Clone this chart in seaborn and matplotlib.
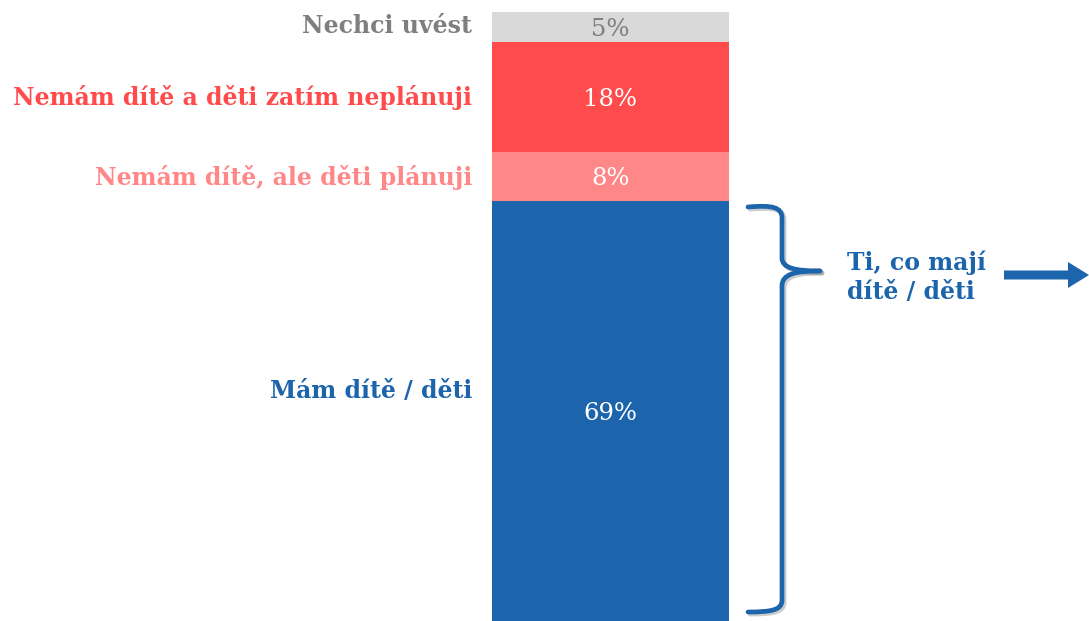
import matplotlib
matplotlib.use("Agg")
import matplotlib.pyplot as plt
import seaborn as sns
import pandas as pd
import numpy as np
from matplotlib.path import Path
from matplotlib.patches import PathPatch, FancyArrow
import matplotlib.patheffects as pe

categories = ["Mám dítě / děti", "Nemám dítě, ale děti plánuji",
              "Nemám dítě a děti zatím neplánuji", "Nechci uvést"]
values = [69, 8, 18, 5]
bar_colors = ["#1c64ab", "#ff8787", "#ff4b4b", "#d9d9d9"]
label_colors = ["#1c64ab", "#ff8787", "#ff4b4b", "#7f7f7f"]
pct_colors = ["white", "white", "white", "#7f7f7f"]
group_label = "Ti, co mají\ndítě / děti"

sns.set_theme(style="white")
plt.rcParams['font.family'] = ['DejaVu Serif']

W, H = 1089, 621
fig = plt.figure(figsize=(W / 100, H / 100), dpi=100)

ax = fig.add_axes([492 / W, 0, 237 / W, 609 / H])
cum = np.cumsum(values)
bottoms = cum - np.array(values)
# draw from top layer down so each overlaps
for i in range(len(values) - 1, -1, -1):
    df = pd.DataFrame({"x": ["a"], "y": [cum[i]]})
    sns.barplot(data=df, x="x", y="y", color=bar_colors[i], width=1.0,
                saturation=1, ax=ax, edgecolor="none", linewidth=0)
ax.set_xlim(-0.5, 0.5)
ax.set_ylim(0, 100)
ax.axis("off")

for i, v in enumerate(values):
    ax.text(0, bottoms[i] + v / 2, f"{v}%", ha="center", va="center_baseline",
            color=pct_colors[i], fontsize=17.5)

# overlay in pixel coords
ov = fig.add_axes([0, 0, 1, 1])
ov.set_xlim(0, W)
ov.set_ylim(H, 0)
ov.axis("off")
ov.patch.set_alpha(0)

label_y = [391, 178, 98, 26]
for i, c in enumerate(categories):
    ov.text(472, label_y[i], c, ha="right", va="center", color=label_colors[i],
            fontsize=17, fontweight="bold")

blue = "#1c64ab"
verts1 = [(748, 207), (772, 205), (782, 207), (782, 218),
          (782, 258), (782, 268), (795, 271), (820, 271)]
codes1 = [Path.MOVETO, Path.CURVE4, Path.CURVE4, Path.CURVE4,
          Path.LINETO, Path.CURVE4, Path.CURVE4, Path.CURVE4]
verts2 = [(820, 271), (795, 271), (782, 274), (782, 286),
          (782, 600), (782, 610), (772, 612), (748, 612)]
codes2 = codes1
shadow = [pe.SimpleLineShadow(offset=(1.5, -1.5), shadow_color="gray", alpha=0.4), pe.Normal()]
for v, c in [(verts1, codes1), (verts2, codes2)]:
    p = PathPatch(Path(v, c), facecolor="none", edgecolor=blue, lw=3.4,
                  capstyle="round", joinstyle="round")
    p.set_path_effects(shadow)
    ov.add_patch(p)

ov.text(847, 277, group_label, ha="left", va="center", color=blue,
        fontsize=17, fontweight="bold", linespacing=1.25)

arr = FancyArrow(1004, 275, 85, 0, width=9, head_width=26, head_length=21,
                 length_includes_head=True, color=blue, lw=0)
ov.add_patch(arr)

fig.savefig("out.png", dpi=100)
